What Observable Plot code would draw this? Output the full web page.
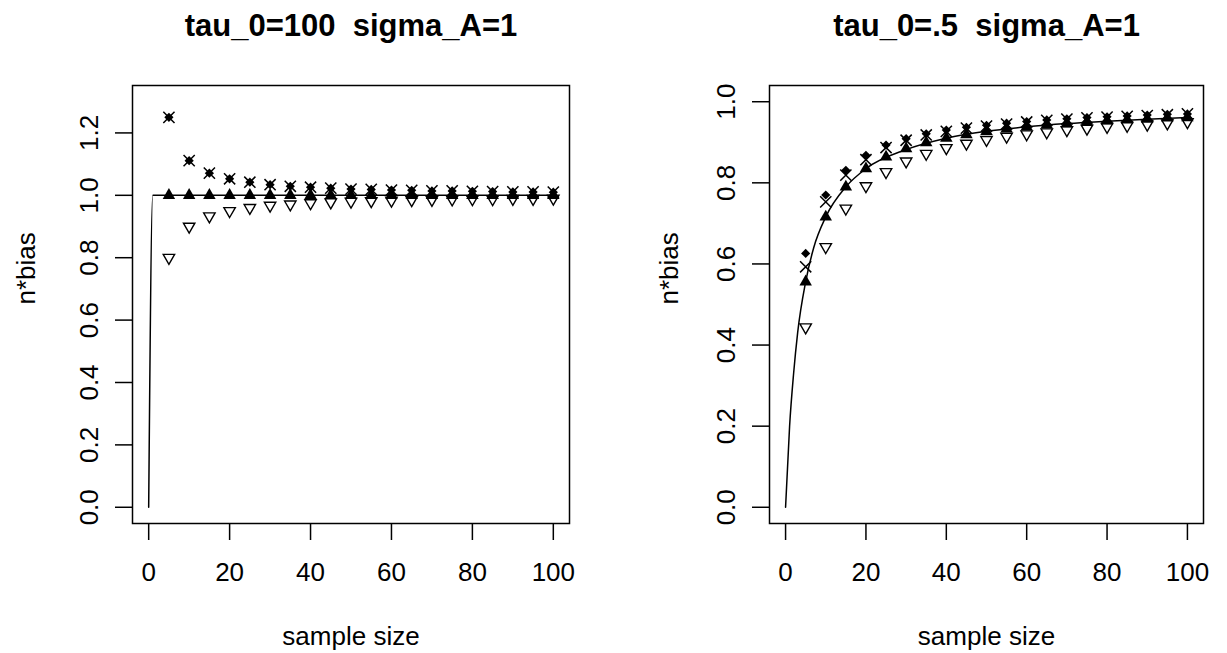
<!DOCTYPE html>
<html><head><meta charset="utf-8">
<script src="https://cdn.jsdelivr.net/npm/d3@7"></script>
<script src="https://cdn.jsdelivr.net/npm/@observablehq/plot@0.6"></script>
<style>
body{margin:0;background:#fff;}
#wrap{display:flex;width:1227px;height:653px;}
svg{font-family:"Liberation Sans",Arial,Helvetica,sans-serif;}
svg text{white-space:pre;}
</style>
</head><body><div id="wrap"></div>
<script>
// ---------- data ----------
const sampleSizes = [5,10,15,20,25,30,35,40,45,50,55,60,65,70,75,80,85,90,95,100];
const xTicks = [0,20,40,60,80,100];
const leftYTicks = [0,0.2,0.4,0.6,0.8,1.0,1.2];
const rightYTicks = [0,0.2,0.4,0.6,0.8,1.0];
const leftTitle = "tau_0=100  sigma_A=1";
const rightTitle = "tau_0=.5  sigma_A=1";
const xLabel = "sample size";
const yLabel = "n*bias";

// left panel (tau_0 = 100)
const leftTri  = [1.00,1.00,1.00,1.00,1.00,1.00,1.00,1.00,1.00,1.00,1.00,1.00,1.00,1.00,1.00,1.00,1.00,1.00,1.00,1.00];
const leftInv  = [0.800,0.900,0.933,0.950,0.960,0.967,0.971,0.975,0.978,0.980,0.982,0.983,0.985,0.986,0.987,0.988,0.988,0.989,0.989,0.990];
const leftDia  = [1.250,1.111,1.071,1.053,1.042,1.034,1.029,1.026,1.023,1.020,1.019,1.017,1.016,1.014,1.014,1.013,1.012,1.011,1.011,1.010];
const leftX    = [1.250,1.111,1.071,1.053,1.042,1.034,1.029,1.026,1.023,1.020,1.019,1.017,1.016,1.014,1.014,1.013,1.012,1.011,1.011,1.010];
const leftCurveN = [0,1,100];
const leftCurveV = [0,1,1];

// right panel (tau_0 = .5)
const rightTri = [0.556,0.716,0.790,0.835,0.864,0.884,0.899,0.910,0.919,0.927,0.933,0.938,0.943,0.946,0.950,0.953,0.955,0.957,0.960,0.961];
const rightInv = [0.444,0.642,0.737,0.792,0.827,0.853,0.872,0.886,0.897,0.906,0.914,0.920,0.925,0.930,0.934,0.938,0.941,0.944,0.947,0.950];
const rightDia = [0.626,0.770,0.831,0.868,0.893,0.909,0.921,0.930,0.937,0.942,0.947,0.951,0.955,0.958,0.961,0.963,0.965,0.967,0.969,0.970];
const rightX   = [0.593,0.753,0.819,0.857,0.887,0.905,0.918,0.927,0.935,0.940,0.945,0.950,0.954,0.957,0.960,0.962,0.964,0.966,0.968,0.970];
const rightCurveN = [0,1,2,3,5,7,10,15,20,30,40,50,60,70,80,90,100];
const rightCurveV = [0,0.20,0.33,0.43,0.556,0.64,0.716,0.79,0.835,0.882,0.91,0.927,0.938,0.946,0.952,0.957,0.961];

// ---------- symbols (R-like pch shapes) ----------
const triUp = {draw(ctx, size){const R=Math.sqrt(size/Math.PI);ctx.moveTo(0,-R);ctx.lineTo(R*0.866,R/2);ctx.lineTo(-R*0.866,R/2);ctx.closePath();}};
const triDown = {draw(ctx, size){const R=Math.sqrt(size/Math.PI);ctx.moveTo(0,R);ctx.lineTo(R*0.866,-R/2);ctx.lineTo(-R*0.866,-R/2);ctx.closePath();}};
const diamond = {draw(ctx, size){const R=Math.sqrt(size/Math.PI);ctx.moveTo(0,-R);ctx.lineTo(R,0);ctx.lineTo(0,R);ctx.lineTo(-R,0);ctx.closePath();}};
const cross = {draw(ctx, size){const R=Math.sqrt(size/Math.PI);ctx.moveTo(-R,-R);ctx.lineTo(R,R);ctx.moveTo(R,-R);ctx.lineTo(-R,R);}};

const font = 26;

function panel({width, marginLeft, marginRight, yDomain, yTicks, title, yLabelDx, tri, inv, dia, xs, curveN, curveV}) {
  const pts = (vals) => sampleSizes.map((n,i)=>({n, v: vals[i]}));
  const curve = curveN.map((n,i)=>({n, v: curveV[i]}));
  return Plot.plot({
    width, height: 653,
    marginLeft, marginRight, marginTop: 85, marginBottom: 130,
    style: {background: "#fff", color: "#000", overflow: "visible"},
    x: {domain: [-4, 104]},
    y: {domain: yDomain},
    marks: [
      Plot.frame({stroke: "#000", strokeWidth: 1.5}),
      Plot.axisX({ticks: xTicks, tickSize: 17, tickPadding: 22, fontSize: font, strokeWidth: 1.5, label: null, tickFormat: d=>String(d)}),
      Plot.axisY({ticks: yTicks, tickSize: 17, tickPadding: 18, tickRotate: -90, fontSize: font, strokeWidth: 1.5, label: null, tickFormat: d3.format(".1f")}),
      Plot.line(curve, {x: "n", y: "v", curve: "monotone-x", stroke: "#000", strokeWidth: 1.5}),
      Plot.dot(pts(tri), {x: "n", y: "v", symbol: triUp, r: 7.2, fill: "#000", stroke: "none"}),
      Plot.dot(pts(inv), {x: "n", y: "v", symbol: triDown, r: 6.6, fill: "none", stroke: "#000", strokeWidth: 1.4}),
      Plot.dot(pts(dia), {x: "n", y: "v", symbol: diamond, r: 4.6, fill: "#000", stroke: "none"}),
      Plot.dot(pts(xs), {x: "n", y: "v", symbol: cross, r: 5.6, fill: "none", stroke: "#000", strokeWidth: 1.5}),
      Plot.text([title], {frameAnchor: "top", dy: -50, lineAnchor: "bottom", fontSize: 31, fontWeight: "bold", text: d=>d}),
      Plot.text([xLabel], {frameAnchor: "bottom", dy: 121, lineAnchor: "bottom", fontSize: font, text: d=>d}),
      Plot.text([yLabel], {frameAnchor: "left", dx: yLabelDx, rotate: -90, lineAnchor: "bottom", fontSize: font, text: d=>d})
    ]
  });
}

const wrap = document.getElementById("wrap");
wrap.appendChild(panel({width: 613, marginLeft: 132, marginRight: 44, yDomain: [-0.052, 1.352], yTicks: leftYTicks, title: leftTitle, yLabelDx: -98,
  tri: leftTri, inv: leftInv, dia: leftDia, xs: leftX, curveN: leftCurveN, curveV: leftCurveV}));
wrap.appendChild(panel({width: 614, marginLeft: 156, marginRight: 24, yDomain: [-0.04, 1.04], yTicks: rightYTicks, title: rightTitle, yLabelDx: -92,
  tri: rightTri, inv: rightInv, dia: rightDia, xs: rightX, curveN: rightCurveN, curveV: rightCurveV}));
</script>
</body></html>
